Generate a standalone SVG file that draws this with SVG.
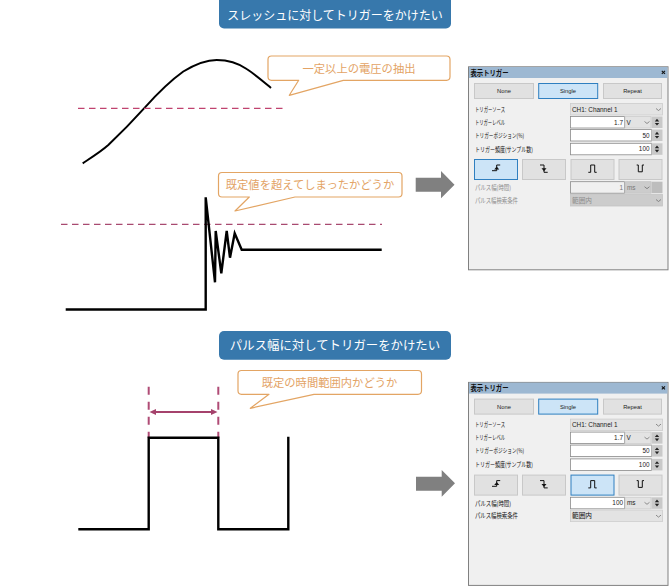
<svg xmlns="http://www.w3.org/2000/svg" xmlns:xlink="http://www.w3.org/1999/xlink" width="670" height="587" viewBox="0 0 670 587">
<style>
text{font-family:"Noto Sans CJK JP","Liberation Sans",sans-serif}
.hd{fill:#3778ac}
.ht{fill:#fff;font-size:12px;text-anchor:middle}
.co{fill:#fff;stroke:#e3a564;stroke-width:1.2;stroke-linejoin:round}
.ct{fill:#e3a365;font-size:11.3px;text-anchor:middle}
.sig{fill:none;stroke:#000;stroke-width:2.4;stroke-linejoin:miter}
.dash{fill:none;stroke:#c0436f;stroke-width:1.3;stroke-dasharray:6.500 4.500}
.dashw{fill:none;stroke:#b04c76;stroke-width:2;stroke-dasharray:8 7}
.blk{fill:#808080}
.win{fill:#f0f0f0;stroke:#808080;stroke-width:1}
.tb{fill:#9db8d2}
.tt{font-size:7.500px;fill:#111;font-weight:700}
.b{fill:#e1e1e1;stroke:#c8c8c8;stroke-width:1}
.on{fill:#cce4f7;stroke:#2f7fc0;stroke-width:1}
.l{font-size:6.400px;fill:#111}
.ld{font-size:6.400px;fill:#8c8c8c}
.bt{font-size:5.800px;fill:#222;text-anchor:middle;font-family:"Liberation Sans",sans-serif}
.v{font-size:6.400px;fill:#222;font-family:"Liberation Sans",sans-serif}
.vr{font-size:6.400px;fill:#222;text-anchor:end;font-family:"Liberation Sans",sans-serif}
.vd{font-size:6.400px;fill:#777;text-anchor:end;font-family:"Liberation Sans",sans-serif}
.cb{fill:#e3e3e3;stroke:#cdcdcd;stroke-width:.8}
.cbd{fill:#cccccc;stroke:#c4c4c4;stroke-width:.8}
.in{fill:#fff;stroke:#8a8a8a;stroke-width:.8}
.ind{fill:#f0f0f0;stroke:#8a8a8a;stroke-width:.8}
.sp{fill:#c9c9c9}
.spd{fill:#bdbdbd}
.g{fill:#222}
.ic{fill:none;stroke:#111;stroke-width:1}
.icf{fill:#111}
.chev{fill:none;stroke:#666;stroke-width:.7}
.pk{fill:none;stroke:#a5426c;stroke-width:1.8}
.pkh{fill:#a5426c}
</style>
<defs>
<path id="chv" class="chev" d="M0 0l2.500 2 2.500-2"/>
<path id="spn" class="g" d="M0 -.8l2.200-2.600 2.200 2.600zM0 .8l2.200 2.600 2.200-2.600z"/>
<g id="common">
<rect class="win" x="468.500" y="66.800" width="199.500" height="203"/>
<rect class="tb" x="469" y="67" width="198.500" height="11"/>
<text class="tt" x="470.500" y="75.500" textLength="38" lengthAdjust="spacingAndGlyphs">表示トリガー</text>
<path d="M661.800 70.800l3.200 3M665 70.800l-3.200 3" fill="none" stroke="#111" stroke-width="1.100"/>
<rect class="b" x="474.500" y="83.500" width="59" height="15"/>
<rect class="on" x="538.700" y="83.500" width="59" height="15"/>
<rect class="b" x="603.500" y="83.500" width="58" height="15"/>
<text class="bt" x="504" y="93">None</text>
<text class="bt" x="568" y="93">Single</text>
<text class="bt" x="632.500" y="93">Repeat</text>
<text class="l" x="475" y="111.800" textLength="30" lengthAdjust="spacingAndGlyphs">トリガーソース</text>
<text class="l" x="475" y="124.800" textLength="30" lengthAdjust="spacingAndGlyphs">トリガーレベル</text>
<text class="l" x="475" y="137.800" textLength="49" lengthAdjust="spacingAndGlyphs">トリガーポジション(%)</text>
<text class="l" x="475" y="151.500" textLength="58" lengthAdjust="spacingAndGlyphs">トリガー頻度(サンプル数)</text>
<rect class="cb" x="570.500" y="103.500" width="92" height="11.500"/>
<text class="v" x="572" y="111.500">CH1: Channel 1</text>
<use xlink:href="#chv" x="656" y="108.500"/>
<rect class="in" x="570.500" y="116.500" width="54" height="11.500"/>
<text class="vr" x="623" y="124.500">1.7</text>
<rect class="cb" x="625" y="116.500" width="26" height="11.500"/>
<text class="v" x="626.500" y="124.500">V</text>
<use xlink:href="#chv" x="644.500" y="121.500"/>
<rect class="sp" x="651.500" y="116.500" width="11" height="11.500"/>
<use xlink:href="#spn" x="654.800" y="122.200"/>
<rect class="in" x="570.500" y="129.500" width="81" height="11.500"/>
<text class="vr" x="649.500" y="137.500">50</text>
<rect class="sp" x="651.500" y="129.500" width="11" height="11.500"/>
<use xlink:href="#spn" x="654.800" y="135.200"/>
<rect class="in" x="570.500" y="143.300" width="81" height="11.500"/>
<text class="vr" x="649.500" y="151.300">100</text>
<rect class="sp" x="651.500" y="143.300" width="11" height="11.500"/>
<use xlink:href="#spn" x="654.800" y="149"/>
</g>
<g id="icons">
<path class="ic" d="M492 170.700h4.700v-5.700h3.500"/><path class="icf" d="M494.200 169.500h5l-2.500-3z"/>
<path class="ic" d="M540 165h4v7.300h3.700"/><path class="icf" d="M541.500 168.300h5l-2.500 3z"/>
<path class="ic" d="M588.300 172.300h2.400v-7.300h4v7.300h2"/>
<path class="ic" d="M636.700 165h1.600v6.800h4v-6.800h1.700"/>
</g>
</defs>

<g id="header-1"><rect class="hd" x="219" y="-6" width="232" height="34.500" rx="5"/><text class="ht" x="335" y="20">スレッシュに対してトリガーをかけたい</text></g>
<g id="header-2"><rect class="hd" x="219" y="331" width="232" height="28.700" rx="5"/><text class="ht" style="font-size:12.400px" x="335" y="350">パルス幅に対してトリガーをかけたい</text></g>

<g id="callout-1"><path class="co" d="M271.500 56H446.500Q450 56 450 59.500V76.800Q450 80.300 446.500 80.300H343.300L289.300 95.300L298.700 80.300H271.500Q268 80.300 268 76.800V59.500Q268 56 271.500 56Z"/><text class="ct" x="359" y="73">一定以上の電圧の抽出</text></g>
<g id="callout-2"><path class="co" d="M222 172.500H398.500Q402 172.500 402 176V193.500Q402 197 398.500 197H295L235 211L249.300 197H222Q218.500 197 218.500 193.500V176Q218.500 172.500 222 172.500Z"/><text class="ct" x="310" y="189">既定値を超えてしまったかどうか</text></g>
<g id="callout-3"><path class="co" d="M241.500 370.500H418Q421.500 370.500 421.500 374V390.800Q421.500 394.300 418 394.300H314L250.300 408.300L269 394.300H241.500Q238 394.300 238 390.800V374Q238 370.500 241.500 370.500Z"/><text class="ct" x="329.500" y="387">既定の時間範囲内かどうか</text></g>

<g id="signal-1">
<path class="sig" style="stroke-width:2" d="M82.700 163.300C93 156.500 101 151.500 108.300 145C122 132 134 119.500 145 107.300C157 94 170 81 183.300 71.500C194 65 206 60 216.700 60C228 60 238 63 246.700 69C256 75 264 82 271 88"/>
<path class="dash" d="M78 108.300H286"/>
</g>
<g id="signal-2">
<path class="dash" style="stroke:#a84a70" d="M61 224.300H382"/>
<path class="sig" d="M65.700 309.500H205.700V197.300L215 282.300L215.700 231L221.300 273.300L226.700 231L230 257.700L234.700 233.300L241.700 249.700H381.700"/>
</g>
<g id="signal-3">
<path class="dashw" d="M148.700 386.700V438M218.300 386.700V438"/>
<path class="sig" d="M78.300 529.300H148.700V437.700H218.300V529.300H288.300V436.700"/>
<path class="pk" d="M153 412H214"/>
<path class="pkh" d="M149.500 412L156 409V415ZM217.500 412L211 409V415Z"/>
</g>
<g id="arrow-1"><path class="blk" d="M415.700 177.700H441V171L454.500 184.700L441 198.300V191.700H415.700Z"/></g>
<g id="arrow-2"><path class="blk" d="M416 476.700H441.700V470L455 483.300L441.700 496.700V490.700H416Z"/></g>

<g id="panel-1">
<use xlink:href="#common"/>
<rect class="on" x="474.500" y="159.500" width="43" height="20"/>
<rect class="b" x="522.500" y="159.500" width="43" height="20"/>
<rect class="b" x="571" y="159.500" width="43" height="20"/>
<rect class="b" x="619" y="159.500" width="43" height="20"/>
<use xlink:href="#icons"/>
<text class="ld" x="475" y="190" textLength="36" lengthAdjust="spacingAndGlyphs">パルス幅(時間)</text>
<text class="ld" x="475" y="202.800" textLength="43" lengthAdjust="spacingAndGlyphs">パルス幅検索条件</text>
<rect class="ind" x="570.500" y="181.700" width="54" height="11.500"/>
<text class="vd" x="623" y="189.700">1</text>
<rect class="cbd" x="625" y="181.700" width="26" height="11.500"/>
<text class="v" style="fill:#777" x="627" y="189.700">ms</text>
<use xlink:href="#chv" x="644.500" y="186.700"/>
<rect class="spd" x="651.500" y="181.700" width="11" height="11.500"/>
<rect class="cbd" x="570.500" y="194.500" width="92" height="11.500"/>
<text class="ld" x="572" y="202.700" textLength="20" lengthAdjust="spacingAndGlyphs">範囲内</text>
<use xlink:href="#chv" x="656" y="199.500"/>
</g>

<g id="panel-2" transform="translate(0 315.600)">
<use xlink:href="#common"/>
<rect class="b" x="474.500" y="159.500" width="43" height="20"/>
<rect class="b" x="522.500" y="159.500" width="43" height="20"/>
<rect class="on" x="571" y="159.500" width="43" height="20"/>
<rect class="b" x="619" y="159.500" width="43" height="20"/>
<use xlink:href="#icons"/>
<text class="l" x="475" y="190" textLength="36" lengthAdjust="spacingAndGlyphs">パルス幅(時間)</text>
<text class="l" x="475" y="202.800" textLength="43" lengthAdjust="spacingAndGlyphs">パルス幅検索条件</text>
<rect class="in" x="570.500" y="181.700" width="54" height="11.500"/>
<text class="vr" x="623" y="189.700">100</text>
<rect class="cb" x="625" y="181.700" width="26" height="11.500"/>
<text class="v" x="627" y="189.700">ms</text>
<use xlink:href="#chv" x="644.500" y="186.700"/>
<rect class="sp" x="651.500" y="181.700" width="11" height="11.500"/>
<use xlink:href="#spn" x="654.800" y="187.400"/>
<rect class="cb" x="570.500" y="194.500" width="92" height="11.500"/>
<text class="l" x="572" y="202.700" textLength="20" lengthAdjust="spacingAndGlyphs">範囲内</text>
<use xlink:href="#chv" x="656" y="199.500"/>
</g>
</svg>
